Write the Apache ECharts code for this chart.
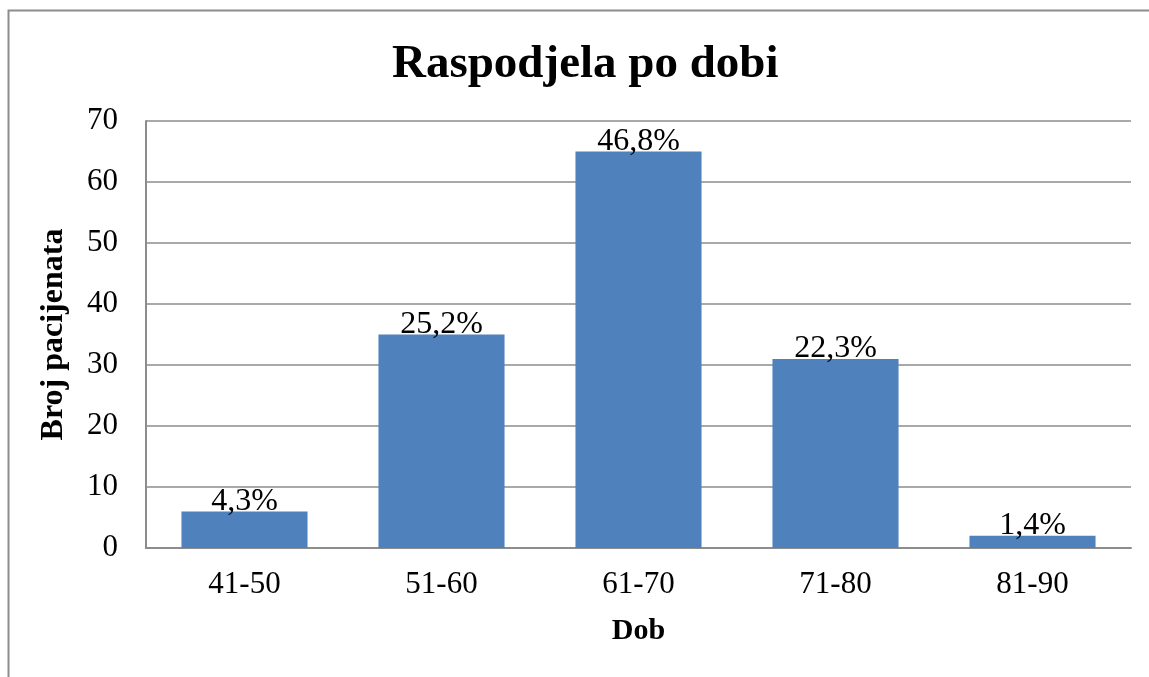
<!DOCTYPE html>
<html>
<head>
<meta charset="utf-8">
<script src="https://cdn.jsdelivr.net/npm/echarts@6/dist/echarts.min.js"></script>
<style>
  html, body { margin: 0; padding: 0; background: #fff; }
  #chart { width: 1149px; height: 677px; }
</style>
</head>
<body>
<div id="chart"></div>
<script>
// podaci
const categories = ['41-50', '51-60', '61-70', '71-80', '81-90'];
const counts = [6, 35, 65, 31, 2];
const percentLabels = ['4,3%', '25,2%', '46,8%', '22,3%', '1,4%'];
const yTicks = [0, 10, 20, 30, 40, 50, 60, 70];

const font = 'Liberation Serif';

let myChart = echarts.init(document.getElementById('chart'));
myChart.setOption({
  animation: false,
  backgroundColor: '#fff',
  // okvir (lijevo i gore)
  graphic: [{
    type: 'rect',
    shape: { x: 8.5, y: 10.5, width: 1300, height: 900 },
    style: { fill: 'none', stroke: '#8c8c8c', lineWidth: 2 },
    silent: true
  }],
  title: {
    text: 'Raspodjela po dobi',
    left: 387,
    top: 36,
    textStyle: { fontFamily: font, fontSize: 47, fontWeight: 'bold', color: '#000' }
  },
  grid: { left: 146, right: 18, top: 121, bottom: 129 },
  xAxis: {
    type: 'category',
    data: categories,
    name: 'Dob',
    nameLocation: 'middle',
    nameGap: 68,
    nameTextStyle: { fontFamily: font, fontSize: 30, fontWeight: 'bold', color: '#000' },
    axisLine: { lineStyle: { color: '#8c8c8c', width: 2 } },
    axisTick: { show: false },
    axisLabel: { fontFamily: font, fontSize: 31, color: '#000', margin: 21 }
  },
  yAxis: {
    type: 'value',
    min: yTicks[0],
    max: yTicks[yTicks.length - 1],
    interval: 10,
    name: 'Broj pacijenata',
    nameLocation: 'middle',
    nameGap: 76,
    nameTextStyle: { fontFamily: font, fontSize: 32, fontWeight: 'bold', color: '#000' },
    axisLine: { show: true, lineStyle: { color: '#8c8c8c', width: 2 } },
    axisTick: { show: false },
    splitLine: { lineStyle: { color: '#8c8c8c', width: 1.5 } },
    axisLabel: { fontFamily: font, fontSize: 31, color: '#000', margin: 28 }
  },
  series: [{
    type: 'bar',
    data: counts,
    barWidth: '64%',
    itemStyle: { color: '#4F81BD' },
    label: {
      show: true,
      position: 'top',
      distance: -6,
      fontFamily: font,
      fontSize: 32,
      color: '#000',
      formatter: p => percentLabels[p.dataIndex]
    }
  }]
});
</script>
</body>
</html>
